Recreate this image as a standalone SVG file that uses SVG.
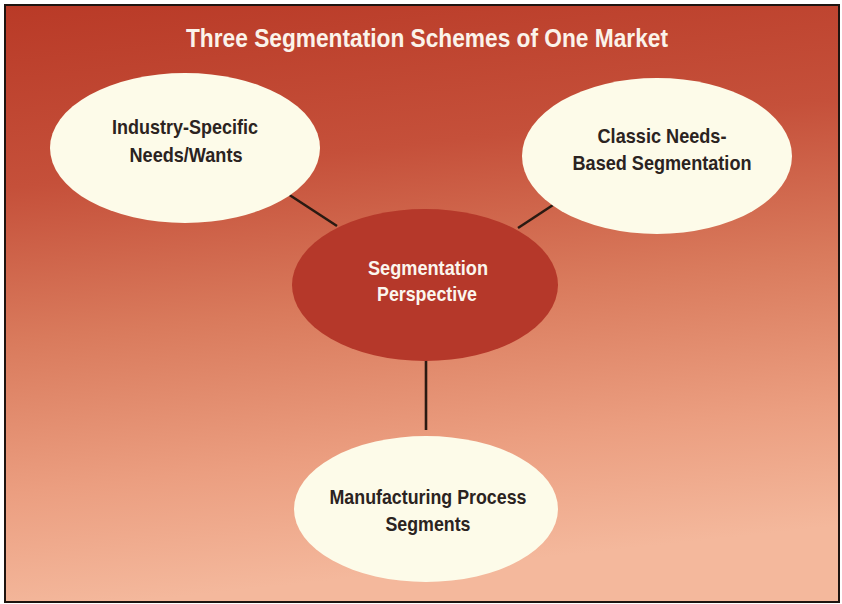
<svg xmlns="http://www.w3.org/2000/svg" width="842" height="604" viewBox="0 0 842 604">
  <defs>
    <linearGradient id="bg" x1="0" y1="0" x2="0.15" y2="1">
      <stop offset="0" stop-color="#b93a27"/>
      <stop offset="0.3" stop-color="#c5503a"/>
      <stop offset="0.55" stop-color="#d97a5c"/>
      <stop offset="0.8" stop-color="#eb9e80"/>
      <stop offset="1" stop-color="#f4b89c"/>
    </linearGradient>
    <style>
      .light { fill: #fdfbe9; }
      .hub { fill: #b5382a; }
      .link { stroke: #2a1a12; stroke-width: 2.6; fill: none; }
      text { font-family: "Liberation Sans", Arial, sans-serif; font-weight: bold; text-anchor: middle; }
      .dark { fill: #2b2321; font-size: 21px; }
      .white { fill: #fbf6ee; font-size: 21px; }
      .title { fill: #fbf3ea; font-size: 25px; }
    </style>
  </defs>

  <!-- background panel -->
  <rect x="5" y="5" width="834" height="597" fill="url(#bg)" stroke="#1e1410" stroke-width="2"/>

  <text class="title" x="427" y="47" textLength="482" lengthAdjust="spacingAndGlyphs">Three Segmentation Schemes of One Market</text>

  <!-- connectors -->
  <g id="connectors">
    <line class="link" x1="288" y1="194" x2="337" y2="226"/>
    <line class="link" x1="553" y1="205" x2="518" y2="228"/>
    <line class="link" x1="426" y1="360" x2="426" y2="430"/>
  </g>

  <g id="industry">
    <ellipse class="light" cx="185" cy="148" rx="135" ry="75"/>
    <text class="dark" x="185" y="134" textLength="146" lengthAdjust="spacingAndGlyphs">Industry-Specific</text>
    <text class="dark" x="186" y="162" textLength="113" lengthAdjust="spacingAndGlyphs">Needs/Wants</text>
  </g>

  <g id="classic">
    <ellipse class="light" cx="657" cy="156" rx="135" ry="78"/>
    <text class="dark" x="662" y="143" textLength="129" lengthAdjust="spacingAndGlyphs">Classic Needs-</text>
    <text class="dark" x="662" y="170" textLength="179" lengthAdjust="spacingAndGlyphs">Based Segmentation</text>
  </g>

  <g id="perspective">
    <ellipse class="hub" cx="425" cy="285" rx="133" ry="76"/>
    <text class="white" x="428" y="275" textLength="120" lengthAdjust="spacingAndGlyphs">Segmentation</text>
    <text class="white" x="427" y="301" textLength="100" lengthAdjust="spacingAndGlyphs">Perspective</text>
  </g>

  <g id="manufacturing">
    <ellipse class="light" cx="426" cy="509" rx="132" ry="73"/>
    <text class="dark" x="428" y="504" textLength="197" lengthAdjust="spacingAndGlyphs">Manufacturing Process</text>
    <text class="dark" x="428" y="531" textLength="85" lengthAdjust="spacingAndGlyphs">Segments</text>
  </g>
</svg>
